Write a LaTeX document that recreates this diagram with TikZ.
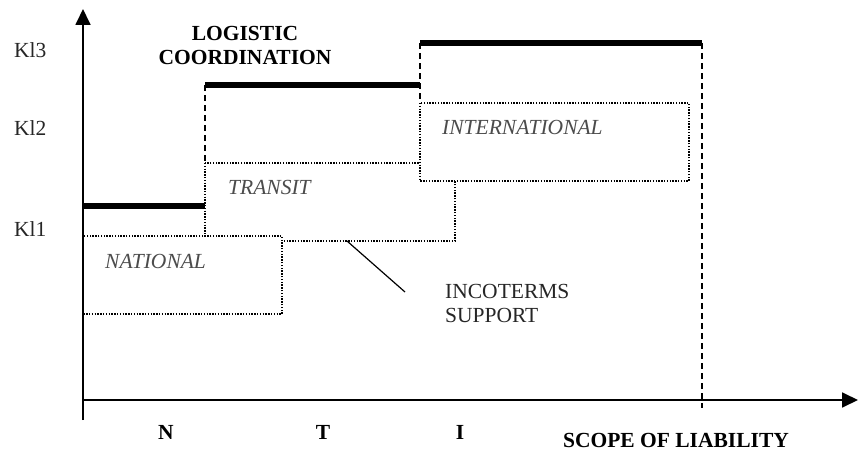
\documentclass[tikz,border=0pt]{standalone}
\usepackage{fontspec}
\setmainfont{Liberation Serif}
\usetikzlibrary{arrows.meta}
\usetikzlibrary{positioning}

\begin{document}
\begin{tikzpicture}[
  x=1pt, y=-1pt,
  > = {Triangle[length=16pt,width=15pt]},
  axis/.style = {line width=1.8pt},
  level/.style = {line width=6.5pt},
  limit/.style = {line width=1.8pt, dash pattern=on 6pt off 4pt},
  zone/.style = {line width=1.5pt, dash pattern=on 1.4pt off 1.4pt, fill=white},
  lab/.style = {font=\fontsize{21.5}{24}\selectfont, inner sep=0pt, text=black!85},
  head/.style = {lab, font=\fontsize{21.5}{24}\selectfont\bfseries, text=black},
  area/.style = {lab, font=\fontsize{21.5}{24}\selectfont\itshape, text=black!70}
  ]
	\useasboundingbox (0,0) rectangle (858,452);

	\coordinate (@o) at (83,400);
	\coordinate (@ytop) at (83,9);
	\coordinate (@ybot) at (83,420);
	\coordinate (@xend) at (858,400);

	% zones of liability
	\draw[zone] (205,163) rectangle (455,241);
	\draw[zone] (83,236) rectangle (282,314);
	\draw[zone] (420,103) rectangle (689,181);

	% coordination levels
	\draw[level] (83,206) -- (205,206);
	\draw[level] (205,85) -- (420,85);
	\draw[level] (420,43) -- (702,43);
	\draw[limit] (205,85) -- (205,163);
	\draw[limit] (420,43) -- (420,103);
	\draw[limit] (702,43) -- (702,408);

	\draw[axis,->] (@ybot) -- (@ytop);
	\draw[axis,->] (@o) -- (@xend);

	\node[lab,anchor=west] (kl3) at (14,50) {Kl3};
	\node[lab,anchor=west] (kl2) at (14,128) {Kl2};
	\node[lab,anchor=west] (kl1) at (14,229) {Kl1};

	\node[head,align=center] (coord) at (245,45) {LOGISTIC\\COORDINATION};

	\node[area,anchor=west] (nat) at (105,261) {NATIONAL};
	\node[area,anchor=west] (tra) at (228,187) {TRANSIT};
	\node[area,anchor=west] (int) at (442,127) {INTERNATIONAL};

	\node[lab,anchor=west,align=left] (inco) at (445,303.5) {INCOTERMS\\SUPPORT};
	\coordinate (@i1) at (347,241);
	\coordinate (@i2) at (405,292);
	\draw[line width=1.2pt] (@i1) -- (@i2);

	\node[head] (n) at (166,432) {N};
	\node[head] (t) at (323,432) {T};
	\node[head] (i) at (460,432) {I};
	\node[head] (scope) at (676,440) {SCOPE OF LIABILITY};

\end{tikzpicture}
\end{document}
